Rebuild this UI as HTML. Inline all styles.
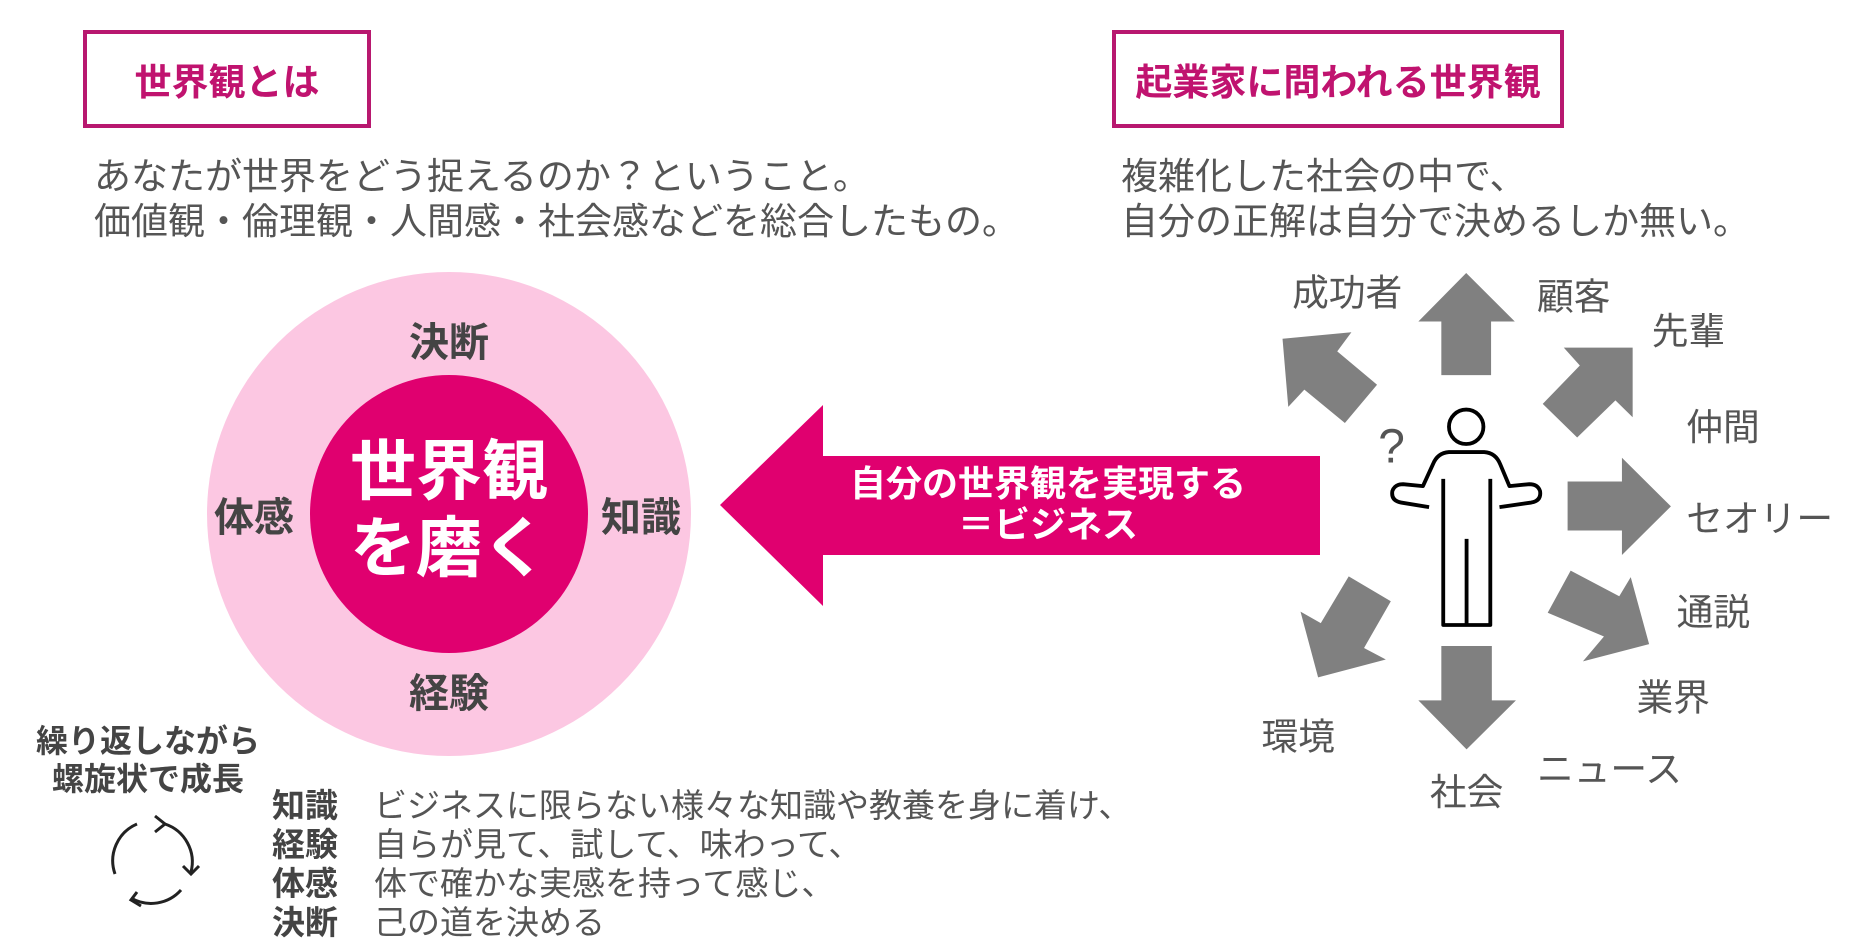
<!DOCTYPE html>
<html><head><meta charset="utf-8"><style>
body{margin:0;width:1851px;height:951px;background:#fff;position:relative;overflow:hidden;font-family:"Liberation Sans","Noto Sans CJK JP",sans-serif;}
.a{position:absolute;white-space:nowrap;}
.box{position:absolute;border:4px solid #b8186f;box-sizing:border-box;color:#c0136f;font-weight:bold;font-size:37px;display:flex;align-items:center;justify-content:center;}
.t{font-size:37px;color:#555;line-height:45px;}
.lb{font-size:40px;font-weight:bold;color:#444;transform:translate(-50%,-50%);}
.r{font-size:33px;color:#444;}
</style></head><body>
<div class="box" style="left:83px;top:30px;width:288px;height:98px;">世界観とは</div>
<div class="box" style="left:1112px;top:30px;width:452px;height:98px;">起業家に問われる世界観</div>
<div class="a t" style="left:94px;top:154px;">あなたが世界をどう捉えるのか？ということ。<br>価値観・倫理観・人間感・社会感などを総合したもの。</div>
<div class="a t" style="left:1121px;top:154px;">複雑化した社会の中で、<br>自分の正解は自分で決めるしか無い。</div>

<div class="a" style="left:207px;top:272px;width:484px;height:484px;border-radius:50%;background:#fcc7e2;"></div>
<div class="a" style="left:310px;top:375px;width:278px;height:278px;border-radius:50%;background:#e0006f;"></div>
<div class="a" style="left:449px;top:510px;transform:translate(-50%,-50%);color:#fff;font-weight:bold;font-size:66px;line-height:77px;text-align:center;">世界観<br>を磨く</div>
<div class="a lb" style="left:449px;top:339px;">決断</div>
<div class="a lb" style="left:254px;top:514px;">体感</div>
<div class="a lb" style="left:641px;top:514px;">知識</div>
<div class="a lb" style="left:449px;top:690px;">経験</div>

<svg class="a" style="left:0;top:0" width="1851" height="951">
<polygon points="720,505 823,405 823,456 1320,456 1320,555 823,555 823,606" fill="#e0006f"/>
</svg>
<div class="a" style="left:1048px;top:504px;transform:translate(-50%,-50%);color:#fff;font-weight:bold;font-size:36px;line-height:41px;text-align:center;">自分の世界観を実現する<br>＝ビジネス</div>

<svg class="a" style="left:1250px;top:250px;overflow:visible" width="600" height="600" viewBox="0 0 1568 1568">
<g fill="#808080">
<polygon points="565,60 692,187 630,187 630,327 500,327 500,187 440,187"/>
<polygon points="500,1035 632,1035 632,1177 695,1177 566,1305 440,1177 500,1177"/>
<polygon points="830,605 972,605 972,543 1100,670 972,797 972,733 830,733"/>
<polygon points="85,232 265,215 228,265 332,352 248,452 142,365 100,410"/>
<polygon points="1000,255 1000,437 955,393 855,490 765,402 862,302 820,255"/>
<polygon points="1043,1030 870,1075 925,1010 778,948 838,838 965,905 995,855"/>
<polygon points="178,1117 132,945 185,975 258,853 368,918 298,1040 355,1070"/>
</g>
<g fill="none" stroke="#000" stroke-width="10" stroke-linejoin="round">
<circle cx="565" cy="462" r="45"/>
<path d="M468,672 L395,660 Q368,655 372,630 Q378,612 400,612 L452,617 L478,560 Q490,530 520,528 L612,528 Q642,530 654,560 L678,617 L730,612 Q752,612 758,630 Q762,655 735,660 L652,672"/>
<path d="M505,598 L505,980 L628,980 L628,598 M566,755 L566,980"/>
</g>
<g font-size="96" fill="#555" font-family="Liberation Sans, Noto Sans CJK JP, sans-serif">
<text x="335" y="555" font-size="125" fill="#555">?</text>
<text x="110" y="145">成功者</text>
<text x="750" y="155">顧客</text>
<text x="1050" y="245">先輩</text>
<text x="1140" y="497">仲間</text>
<text x="1140" y="735">セオリー</text>
<text x="1115" y="980">通説</text>
<text x="1010" y="1203">業界</text>
<text x="750" y="1390">ニュース</text>
<text x="470" y="1450">社会</text>
<text x="30" y="1305">環境</text>
</g>
</svg>

<div class="a" style="left:148px;top:760px;transform:translate(-50%,-50%);font-weight:bold;font-size:32px;color:#444;line-height:38px;text-align:center;">繰り返しながら<br>螺旋状で成長</div>
<svg class="a" style="left:103px;top:812px" width="100" height="100" viewBox="0 0 100 100">
<g fill="none" stroke="#222" stroke-width="3">
<path d="M62,12 A40,40 0 0 1 88,60"/>
<path d="M78,78 A40,40 0 0 1 28,86"/>
<path d="M12,62 A40,40 0 0 1 34,12"/>
<path d="M52,4 L62,12 L52,20"/>
<path d="M96,54 L88,62 L80,54"/>
<path d="M34,80 L28,88 L38,94"/>
</g></svg>

<div class="a r" style="left:272px;top:786px;line-height:39px;font-weight:bold;">知識<br>経験<br>体感<br>決断</div>
<div class="a r" style="left:374px;top:786px;line-height:39px;color:#555;">ビジネスに限らない様々な知識や教養を身に着け、<br>自らが見て、試して、味わって、<br>体で確かな実感を持って感じ、<br>己の道を決める</div>
</body></html>
